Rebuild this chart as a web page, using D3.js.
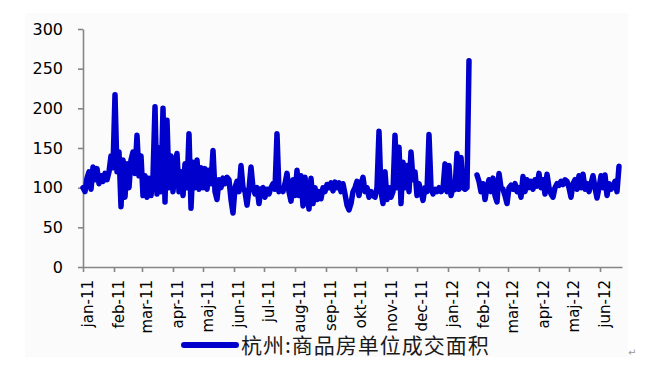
<!DOCTYPE html>
<html>
<head>
<meta charset="utf-8">
<script src="https://cdn.jsdelivr.net/npm/d3@7/dist/d3.min.js"></script>
<style>
  html, body { margin: 0; padding: 0; background: #ffffff; }
  svg { display: block; }
</style>
</head>
<body>
<svg id="chart" width="664" height="381"></svg>
<script>
// ---- data ----
const seriesName = "杭州:商品房单位成交面积";
const startDate = new Date(2011, 0, 1);
const stepDays = 2; // one reading every 2 days
const values = [
  100, 95, 112, 120, 98, 126, 110, 124, 105, 115,
  108, 118, 110, 120, 140, 125, 217, 120, 145, 76,
  135, 88, 130, 100, 135, 145, 118, 166, 115, 140,
  90, 115, 88, 112, 90, 115, 202, 92, 150, 95,
  200, 82, 185, 100, 140, 95, 130, 143, 95, 120,
  90, 130, 100, 168, 74, 132, 100, 135, 98, 125,
  100, 124, 98, 122, 105, 147, 95, 85, 110, 100,
  112, 105, 113, 110, 85, 68, 100, 108, 95, 128,
  100, 95, 78, 98, 126, 100, 92, 100, 80, 98,
  100, 88, 98, 92, 100, 105, 98, 168, 95, 100,
  95, 105, 118, 95, 83, 110, 90, 122, 90, 115,
  77, 113, 92, 73, 112, 80, 100, 85, 95, 86,
  100, 95, 104, 100, 106, 96, 107, 100, 106, 95,
  105, 92, 78, 72, 80, 95, 100, 108, 90, 105,
  113, 95, 100, 88, 95, 90, 88, 100, 171, 95,
  80, 120, 85, 100, 88, 95, 166, 100, 151, 80,
  132, 100, 128, 95, 145, 110, 120, 90, 105, 95,
  84, 100, 95, 167, 100, 92, 98, 95, 100, 95,
  98, 130, 95, 128, 90, 100, 98, 143, 98, 138,
  100, 98, 100, 260, null, null, null, 116, 108, 95,
  105, 85, 100, 110, 95, 112, 90, 82, 118, 100,
  98, 90, 80, 100, 103, 98, 105, 95, 100, 88,
  114, 95, 110, 100, 108, 98, 110, 102, 118, 100,
  110, 92, 117, 100, 92, 88, 100, 105, 103, 108,
  104, 110, 108, 100, 88, 105, 110, 98, 115, 100,
  117, 98, 105, 95, 105, 115, 100, 87, 100, 115,
  100, 116, 90, 105, 98, 102, 108, 95, 127
];
const yTicks = [0, 50, 100, 150, 200, 250, 300];
const monthTickDates = d3.timeMonth.range(new Date(2011, 0, 1), new Date(2012, 6, 1));
const tickLabels = ["jan-11", "feb-11", "mar-11", "apr-11", "maj-11", "jun-11",
  "jul-11", "aug-11", "sep-11", "okt-11", "nov-11", "dec-11",
  "jan-12", "feb-12", "mar-12", "apr-12", "maj-12", "jun-12"];

const data = values.map((v, i) => ({ date: d3.timeDay.offset(startDate, i * stepDays), value: v }));

// ---- layout ----
const svg = d3.select("#chart");
const plotLeft = 83, plotRight = 622, plotTop = 29, plotBottom = 267;
const lineColor = "#0000cc";
const axisColor = "#868686";

svg.append("rect").attr("x", 25).attr("y", 13).attr("width", 603).attr("height", 344)
  .attr("fill", "#fbfbfb");

const x = d3.scaleTime().domain([new Date(2011, 0, 1), new Date(2012, 5, 23)]).range([plotLeft, plotRight]);
const y = d3.scaleLinear().domain([0, 300]).range([plotBottom, plotTop]);

// y axis
const yAxis = svg.append("g").attr("transform", `translate(${plotLeft},0)`)
  .call(d3.axisLeft(y).tickValues(yTicks).tickSize(5).tickSizeOuter(0).tickPadding(15));
yAxis.select(".domain").attr("stroke", axisColor).attr("stroke-width", 1.6);
yAxis.selectAll(".tick line").attr("stroke", axisColor).attr("stroke-width", 1.6);
yAxis.selectAll(".tick text").attr("fill", "#000").style("font-family", "'DejaVu Sans', Verdana, sans-serif").style("font-size", "16px");

// x axis
const xAxis = svg.append("g").attr("transform", `translate(0,${plotBottom})`)
  .call(d3.axisBottom(x).tickValues(monthTickDates).tickSize(5).tickSizeOuter(0)
    .tickFormat((d, i) => tickLabels[i]));
xAxis.select(".domain").attr("stroke", axisColor).attr("stroke-width", 1.6);
xAxis.selectAll(".tick line").attr("stroke", axisColor).attr("stroke-width", 1.6);
xAxis.selectAll(".tick text")
  .attr("transform", "rotate(-90)")
  .attr("text-anchor", "end")
  .attr("x", -13)
  .attr("y", 9)
  .attr("dy", 0)
  .attr("fill", "#000")
  .style("font-family", "'DejaVu Sans', Verdana, sans-serif")
  .style("font-size", "15px");

// line
const line = d3.line()
  .defined(d => d.value != null)
  .x(d => x(d.date))
  .y(d => y(d.value));
svg.append("path").datum(data)
  .attr("d", line)
  .attr("fill", "none")
  .attr("stroke", lineColor)
  .attr("stroke-width", 5.5)
  .attr("stroke-linejoin", "round")
  .attr("stroke-linecap", "round");

// legend
svg.append("line").attr("x1", 184).attr("x2", 236).attr("y1", 345).attr("y2", 345)
  .attr("stroke", lineColor).attr("stroke-width", 6).attr("stroke-linecap", "round");
svg.append("text").attr("x", 241).attr("y", 353)
  .style("font-family", "'Noto Sans CJK SC', sans-serif").style("font-size", "21px")
  .style("letter-spacing", "1px")
  .attr("fill", "#1a1a1a")
  .text(seriesName);

// paragraph mark
svg.append("text").attr("x", 628).attr("y", 356)
  .style("font-family", "'DejaVu Sans', sans-serif").style("font-size", "10px")
  .attr("fill", "#999").text("↵");
</script>
</body>
</html>
